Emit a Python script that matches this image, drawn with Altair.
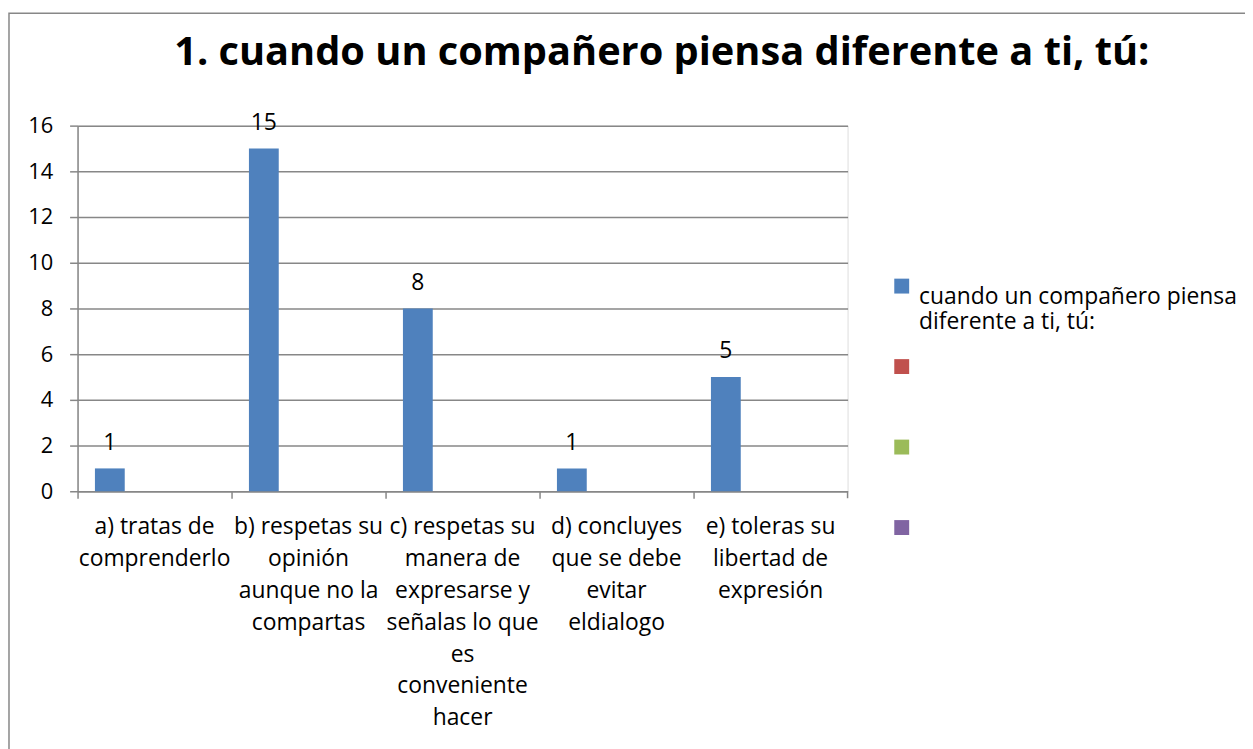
import altair as alt
import pandas as pd

# ---- data ----
categories = [
    "a) tratas de|comprenderlo",
    "b) respetas su|opinión|aunque no la|compartas",
    "c) respetas su|manera de|expresarse y|señalas lo que|es|conveniente|hacer",
    "d) concluyes|que se debe|evitar|eldialogo",
    "e) toleras su|libertad de|expresión",
]
values = [1, 15, 8, 1, 5]
series_keys = ["s1", "s2", "s3", "s4"]
series_labels = ["cuando un compañero piensa|diferente a ti, tú:", "", "", ""]
series_colors = ["#4F81BD", "#C0504D", "#9BBB59", "#8064A2"]
y_ticks = [0, 2, 4, 6, 8, 10, 12, 14, 16]
title_text = "1. cuando un compañero piensa diferente a ti, tú:"

FONT = "Open Sans"
GRAY = "#878787"

df = pd.DataFrame({"cat": categories, "value": values, "series": [series_keys[0]] * len(values)})
end_df = pd.DataFrame({"cat": [categories[-1]]})
title_df = pd.DataFrame({"title": [title_text]})

legend_expr = " : ".join(
    [f"datum.value == '{k}' ? split('{l}', '|')" for k, l in zip(series_keys, series_labels)]
) + " : ''"

x_scale = alt.Scale(domain=categories, paddingInner=0, paddingOuter=0)
off_scale = alt.Scale(domain=series_keys, paddingInner=0, paddingOuter=0.583)

base = alt.Chart(df)

bars = base.mark_bar().encode(
    x=alt.X("cat:N", scale=x_scale, sort=categories, title=None,
            axis=alt.Axis(labelAngle=0, labelExpr="split(datum.label, '|')",
                          bandPosition=0, tickSize=7, tickColor=GRAY, domainColor=GRAY,
                          domainWidth=1.5, tickWidth=1.5, labelFontSize=23, labelFont=FONT,
                          labelColor="#000000", labelPadding=18, labelLineHeight=32,
                          labelLimit=300, grid=False)),
    xOffset=alt.XOffset("series:N", scale=off_scale),
    y=alt.Y("value:Q", scale=alt.Scale(domain=[0, 16], nice=False), title=None,
            axis=alt.Axis(values=y_ticks, tickSize=8, tickColor=GRAY, domainColor=GRAY,
                          domainWidth=1.5, tickWidth=1.5, gridColor=GRAY, gridWidth=1.5,
                          labelFontSize=22, labelFont=FONT, labelColor="#000000",
                          labelPadding=17)),
    color=alt.Color("series:N", scale=alt.Scale(domain=series_keys, range=series_colors),
                    legend=alt.Legend(title=None, orient="none", legendX=818, legendY=150,
                                      symbolType="square", symbolSize=225, symbolStrokeWidth=0,
                                      labelExpr=legend_expr, labelFontSize=23, labelFont=FONT,
                                      labelColor="#000000", labelLimit=400, labelOffset=6,
                                      rowPadding=21, gridAlign="all",
                                      labelBaseline="top", padding=0)),
)

labels = base.mark_text(baseline="alphabetic", dy=-19, fontSize=23, font=FONT, color="#000000").encode(
    x=alt.X("cat:N", scale=x_scale, sort=categories),
    xOffset=alt.XOffset("series:N", scale=off_scale),
    y=alt.Y("value:Q"),
    text=alt.Text("value:Q"),
)

end_tick = alt.Chart(end_df).mark_rule(color=GRAY, strokeWidth=1.5).encode(
    x=alt.X("cat:N", scale=x_scale, sort=categories, bandPosition=1),
    y=alt.value(368),
    y2=alt.value(375),
)

frame = alt.Chart(end_df).mark_rect(fill="transparent", stroke=GRAY, strokeWidth=1.5).encode(
    x=alt.value(-69), x2=alt.value(1300), y=alt.value(-113), y2=alt.value(800)
)

title = alt.Chart(title_df).mark_text(
    fontSize=40, fontWeight="bold", font=FONT, color="#000000",
    align="center", baseline="alphabetic"
).encode(x=alt.value(588), y=alt.value(-61), text="title:N")

chart = alt.layer(frame, bars, labels, end_tick, title).properties(
    width=775,
    height=368,
    padding={"left": 70, "top": 116, "right": 400, "bottom": 257},
    autosize=alt.AutoSizeParams(type="none"),
).configure_view(stroke=None).configure(background="#ffffff")

chart.save("out.html", embed_options={"renderer": "svg", "actions": False})
